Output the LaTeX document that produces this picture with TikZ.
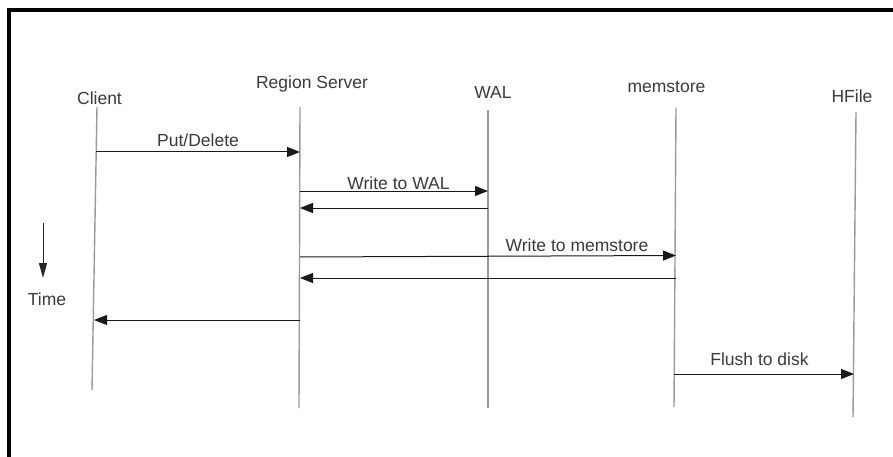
\documentclass[tikz,border=0pt]{standalone}
\usepackage{fontspec}
\setmainfont{Liberation Sans}
\usetikzlibrary{arrows.meta}
\definecolor{txt}{HTML}{3A3A3A}
\definecolor{life}{HTML}{9A9A9A}
\tikzset{
  lbl/.style={anchor=base, inner sep=0pt, text=txt, font=\fontsize{17.5}{20}\selectfont},
  lifeline/.style={draw=life, line width=1.4pt},
  msg/.style={draw=black!90, line width=1pt, -{Triangle[length=13pt,width=10pt]}},
  frame/.style={draw=black, line width=3.6pt},
}
\begin{document}
\begin{tikzpicture}[x=1pt,y=-1pt]
\useasboundingbox (0,0) rectangle (893,457);
\fill[white] (0,0) rectangle (893,457);
% frame
\coordinate (ftl) at (9.2,10);
\coordinate (ftr) at (895,10);
\coordinate (fbl) at (9.2,459);
\draw[frame] (fbl) -- (ftl) -- (ftr);
% participant labels
\node[lbl] (client) at (99.5,105) {Client};
\node[lbl] (rs) at (312,89) {Region Server};
\node[lbl] (wal) at (493,98.5) {WAL};
\node[lbl] (mem) at (666.5,92.5) {memstore};
\node[lbl] (hfile) at (852,103) {HFile};
% lifelines
\coordinate (cT) at (97,107); \coordinate (cB) at (92,390);
\coordinate (rT) at (300,107); \coordinate (rB) at (299,408);
\coordinate (wT) at (488,110); \coordinate (wB) at (488,408);
\coordinate (mT) at (676,108); \coordinate (mB) at (674,407);
\coordinate (hT) at (856,112); \coordinate (hB) at (853,417);
\draw[lifeline] (cT) -- (cB);
\draw[lifeline] (rT) -- (rB);
\draw[lifeline] (wT) -- (wB);
\draw[lifeline] (mT) -- (mB);
\draw[lifeline] (hT) -- (hB);
% message end points
\coordinate (m1a) at (96.2,152); \coordinate (m1b) at (300,152);
\coordinate (m2a) at (300,191); \coordinate (m2b) at (488,191);
\coordinate (m3a) at (488,208); \coordinate (m3b) at (300,208);
\coordinate (m4a) at (300,257); \coordinate (m4b) at (676,255.5);
\coordinate (m5a) at (676,278); \coordinate (m5b) at (300,278);
\coordinate (m6a) at (300,320); \coordinate (m6b) at (94,320);
\coordinate (m7a) at (674,374); \coordinate (m7b) at (854,374);
\draw[msg] (m1a) -- (m1b);
\draw[msg] (m2a) -- (m2b);
\draw[msg] (m3a) -- (m3b);
\draw[msg] (m4a) -- (m4b);
\draw[msg] (m5a) -- (m5b);
\draw[msg] (m6a) -- (m6b);
\draw[msg] (m7a) -- (m7b);
% message labels
\node[lbl] (l1) at (198,147) {Put/Delete};
\node[lbl] (l2) at (398.5,189.5) {Write to WAL};
\node[lbl] (l4) at (577,251.5) {Write to memstore};
\node[lbl] (l7) at (759.5,365) {Flush to disk};
% time arrow
\coordinate (tA) at (43,223); \coordinate (tB) at (43,278);
\draw[draw=black!85, line width=1pt, -{Triangle[length=15pt,width=8pt]}] (tA) -- (tB);
\node[lbl] (time) at (47,305.5) {Time};
\end{tikzpicture}
\end{document}
